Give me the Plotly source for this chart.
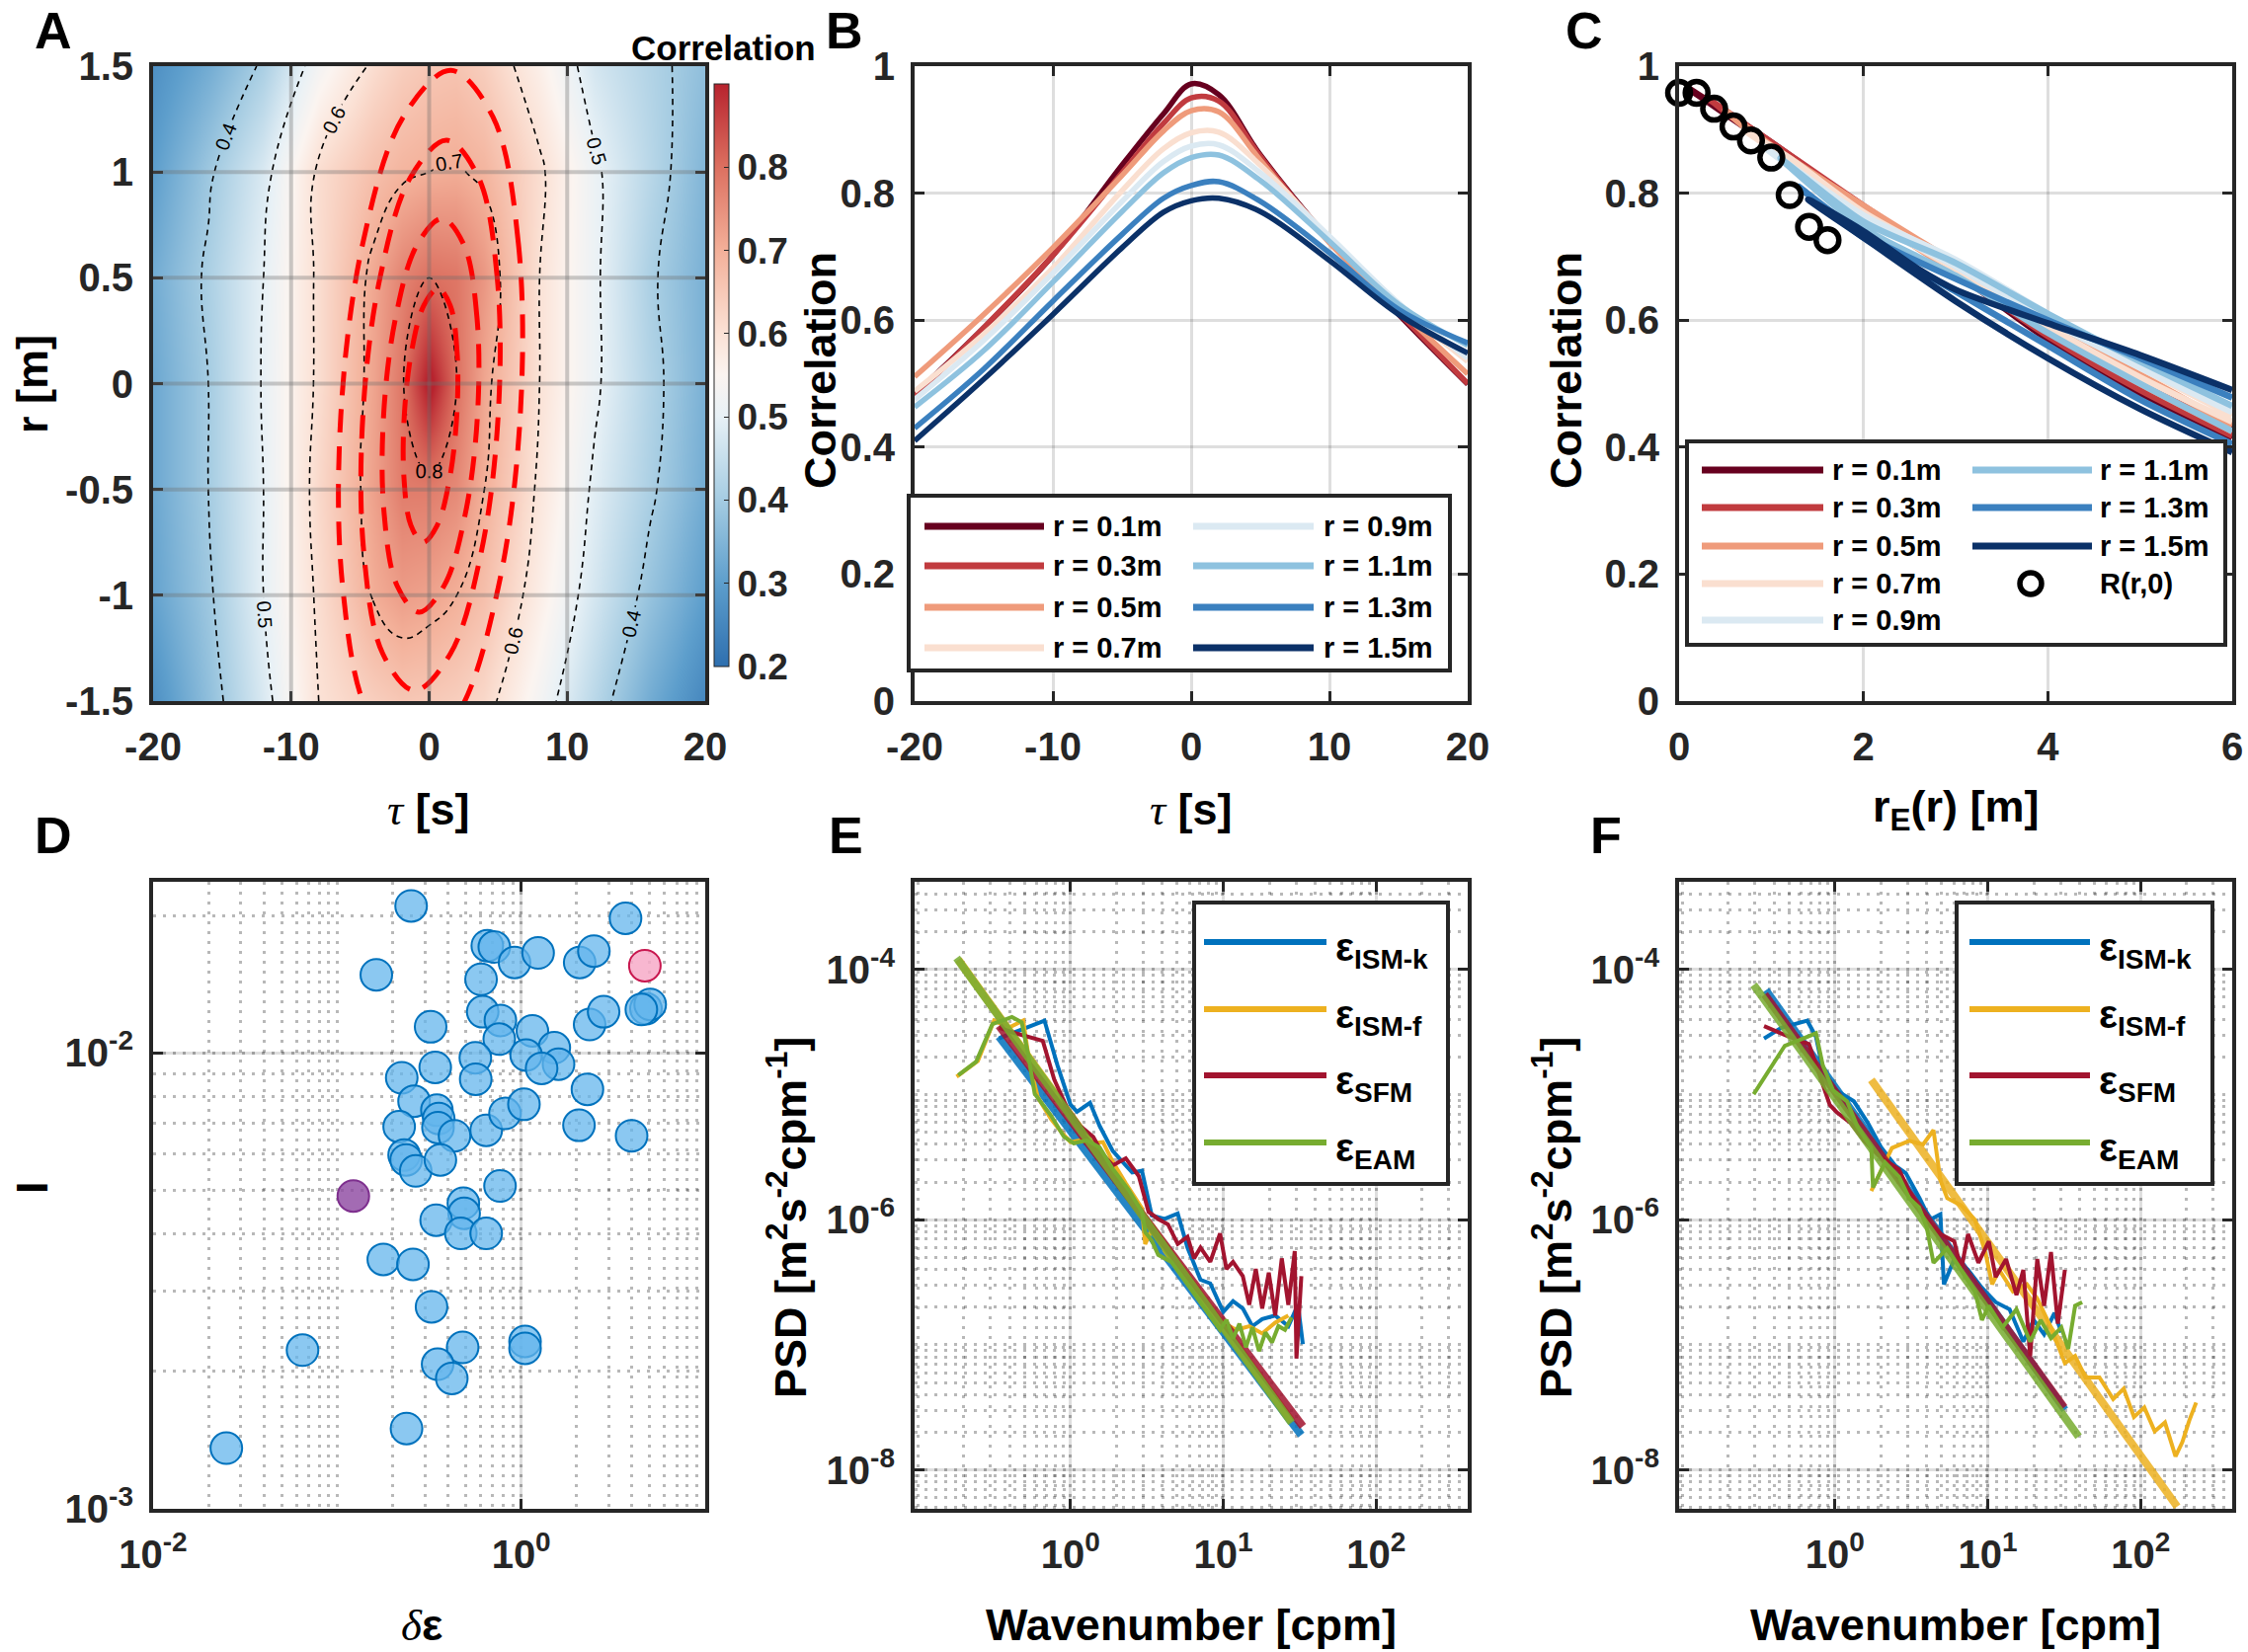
import numpy as np
import plotly.graph_objects as go

W, H = 2276, 1673
FONT = "Liberation Sans"
INK = "#262626"

# ---------------- A: correlation map R(r, tau) ----------------
a_tau = [-20, -16, -12, -8, -4, -2, 0, 2, 4, 8, 12, 16, 20]
a_r = [-1.5, -1.0, -0.5, 0.0, 0.5, 1.0, 1.5]
a_corr = [
    [0.27, 0.37, 0.48, 0.60, 0.64, 0.655, 0.65, 0.64, 0.62, 0.53, 0.43, 0.33, 0.25],
    [0.31, 0.39, 0.50, 0.61, 0.705, 0.73, 0.72, 0.70, 0.67, 0.57, 0.47, 0.38, 0.30],
    [0.32, 0.40, 0.50, 0.62, 0.725, 0.78, 0.78, 0.76, 0.70, 0.59, 0.49, 0.41, 0.33],
    [0.32, 0.40, 0.505, 0.61, 0.72, 0.79, 0.92, 0.80, 0.715, 0.60, 0.51, 0.42, 0.34],
    [0.33, 0.41, 0.50, 0.61, 0.715, 0.77, 0.80, 0.79, 0.74, 0.60, 0.51, 0.41, 0.34],
    [0.30, 0.39, 0.48, 0.61, 0.67, 0.69, 0.70, 0.705, 0.69, 0.61, 0.51, 0.43, 0.35],
    [0.27, 0.33, 0.41, 0.53, 0.61, 0.64, 0.655, 0.66, 0.64, 0.565, 0.47, 0.42, 0.37],
]

# red dashed model contours (tau [s], r [m])
ell1_tau = [2.0, 2.02, 1.52, 0.64, -0.38, -1.28, -1.8, -1.82, -1.32, -0.44, 0.58, 1.48, 2.0]
ell1_r = [-0.15, 0.15, 0.37, 0.45, 0.37, 0.15, -0.15, -0.45, -0.67, -0.75, -0.67, -0.45, -0.15]
ell2_tau = [3.5, 3.46, 2.52, 0.94, -0.88, -2.42, -3.3, -3.26, -2.32, -0.74, 1.08, 2.62, 3.5]
ell2_r = [-0.15, 0.315, 0.655, 0.78, 0.655, 0.315, -0.15, -0.615, -0.955, -1.08, -0.955, -0.615, -0.15]
ell3_tau = [5.0, 4.93, 3.56, 1.27, -1.34, -3.56, -4.8, -4.73, -3.36, -1.07, 1.54, 3.76, 5.0]
ell3_r = [-0.15, 0.5, 0.976, 1.15, 0.976, 0.5, -0.15, -0.8, -1.276, -1.45, -1.276, -0.8, -0.15]
ell4_tau = [6.6, 6.46, 4.62, 1.57, -1.88, -4.8, -6.4, -6.26, -4.42, -1.37, 2.08, 5.0, 6.6]
ell4_r = [-0.15, 0.665, 1.26, 1.48, 1.26, 0.665, -0.15, -0.965, -1.56, -1.78, -1.56, -0.965, -0.15]

# ---------------- B: R(r, tau) for fixed r ----------------
r_labels = ["r = 0.1m", "r = 0.3m", "r = 0.5m", "r = 0.7m",
            "r = 0.9m", "r = 1.1m", "r = 1.3m", "r = 1.5m"]
r_colors = ["#67001f", "#c13b3f", "#ef9b7b", "#fadfd0",
            "#dbe9f2", "#8ec2df", "#3b80bf", "#0b3168"]
b_tau = [-20, -15, -10, -5, -2, 0, 2, 5, 10, 15, 20]
b_corr = [
    [0.483, 0.588, 0.702, 0.844, 0.925, 0.972, 0.955, 0.860, 0.726, 0.609, 0.499],
    [0.480, 0.588, 0.702, 0.832, 0.910, 0.950, 0.945, 0.858, 0.724, 0.612, 0.500],
    [0.511, 0.609, 0.714, 0.828, 0.898, 0.930, 0.928, 0.852, 0.722, 0.617, 0.515],
    [0.488, 0.578, 0.682, 0.804, 0.870, 0.895, 0.896, 0.844, 0.730, 0.624, 0.535],
    [0.475, 0.568, 0.674, 0.787, 0.850, 0.874, 0.876, 0.832, 0.732, 0.627, 0.540],
    [0.463, 0.552, 0.660, 0.771, 0.832, 0.856, 0.860, 0.820, 0.724, 0.625, 0.560],
    [0.430, 0.523, 0.630, 0.735, 0.792, 0.812, 0.818, 0.787, 0.706, 0.617, 0.564],
    [0.410, 0.507, 0.609, 0.714, 0.770, 0.788, 0.792, 0.771, 0.694, 0.609, 0.548],
]

# ---------------- C: R vs equivalent separation r_E ----------------
c_rE = [
    [6, 5, 4, 3, 2, 1, 0.1, 1, 2, 3, 4, 5, 6],
    [6, 5, 4, 3, 2, 1, 0.3, 1, 2, 3, 4, 5, 6],
    [6, 5, 4, 3, 2, 1, 0.5, 1, 2, 3, 4, 5, 6],
    [6, 5, 4, 3, 2, 1.2, 0.7, 1.2, 2, 3, 4, 5, 6],
    [6, 5, 4, 3, 2, 0.9, 2, 3, 4, 5, 6],
    [6, 5, 4, 3, 2, 1.1, 2, 3, 4, 5, 6],
    [6, 5, 4, 3, 2, 1.3, 2, 3, 4, 5, 6],
    [6, 5, 4, 3, 2, 1.4, 2, 2.6, 3, 4, 5, 6],
]
c_corr = [
    [0.415, 0.485, 0.57, 0.675, 0.775, 0.88, 0.965, 0.875, 0.77, 0.68, 0.585, 0.505, 0.43],
    [0.418, 0.49, 0.575, 0.675, 0.775, 0.875, 0.95, 0.88, 0.78, 0.685, 0.59, 0.51, 0.435],
    [0.425, 0.5, 0.585, 0.675, 0.77, 0.87, 0.93, 0.875, 0.78, 0.69, 0.6, 0.515, 0.434],
    [0.44, 0.51, 0.59, 0.68, 0.765, 0.85, 0.90, 0.855, 0.77, 0.69, 0.605, 0.525, 0.45],
    [0.455, 0.525, 0.6, 0.685, 0.76, 0.875, 0.765, 0.695, 0.61, 0.53, 0.46],
    [0.425, 0.5, 0.58, 0.67, 0.745, 0.855, 0.755, 0.69, 0.61, 0.535, 0.465],
    [0.405, 0.475, 0.56, 0.645, 0.73, 0.81, 0.735, 0.665, 0.6, 0.54, 0.478],
    [0.392, 0.46, 0.54, 0.63, 0.73, 0.79, 0.74, 0.68, 0.648, 0.595, 0.545, 0.49],
]
c_circ_rE = [0.0, 0.19, 0.38, 0.59, 0.78, 1.0, 1.2, 1.41, 1.61]
c_circ_R = [0.958, 0.958, 0.933, 0.905, 0.883, 0.856, 0.797, 0.747, 0.726]

# ---------------- D: scatter (log10 values) ----------------
d_eps_log = [-0.598, -0.787, -0.184, -0.146, -0.036, 0.092, 0.318, 0.395, 0.567, -0.218,
             -0.209, -0.113, -0.119, -0.492, 0.061, 0.180, 0.027, 0.203, 0.111, -0.249,
             -0.247, -0.467, -0.649, -0.582, -0.458, -0.448, -0.663, -0.452, -0.362, -0.190,
             -0.088, 0.015, 0.360, 0.314, 0.600, 0.372, 0.448, 0.678, 0.701, 0.653,
             -0.636, -0.625, -0.573, -0.439, -0.115, -0.314, -0.310, -0.462, -0.328, -0.190,
             -0.749, -0.588, -0.487, -1.188, -0.318, -0.454, -0.377, 0.021, 0.021, -0.623, -1.602]
d_I_log = [-1.678, -1.829, -1.765, -1.768, -1.802, -1.781, -1.802, -1.777, -1.705, -1.839,
           -1.910, -1.929, -1.970, -1.943, -1.952, -1.989, -2.005, -2.025, -2.034, -2.011,
           -2.058, -2.032, -2.055, -2.106, -2.126, -2.144, -2.162, -2.164, -2.182, -2.170,
           -2.133, -2.113, -2.080, -2.159, -2.182, -1.938, -1.910, -1.903, -1.894, -1.905,
           -2.224, -2.235, -2.259, -2.235, -2.292, -2.330, -2.352, -2.367, -2.396, -2.396,
           -2.453, -2.464, -2.557, -2.652, -2.646, -2.683, -2.714, -2.633, -2.648, -2.824, -2.867]
d_purple_log = [-0.912, -2.314]
d_pink_log = [0.672, -1.809]

# ---------------- E: spectra (log10 k, log10 PSD) ----------------
e_ismk_k = [-0.468, -0.362, -0.170, -0.085, 0.0, 0.043, 0.128, 0.191, 0.277, 0.340, 0.404, 0.468,
            0.532, 0.617, 0.702, 0.766, 0.851, 0.915, 1.0, 1.064, 1.128, 1.191, 1.255, 1.340,
            1.426, 1.489, 1.521]
e_ismk_p = [-4.551, -4.503, -4.409, -4.766, -5.080, -5.137, -5.066, -5.251, -5.451, -5.537, -5.623,
            -5.609, -5.966, -5.994, -5.951, -6.223, -6.480, -6.509, -6.737, -6.651, -6.709, -6.851,
            -6.794, -6.766, -6.851, -6.680, -6.994]
e_ismf_k = [-0.745, -0.606, -0.5, -0.404, -0.309, -0.266, -0.213, -0.128, -0.053, 0.0, 0.064, 0.149,
            0.213, 0.277, 0.362, 0.468, 0.489, 0.543, 0.617, 0.702, 0.809, 0.915, 1.0, 1.085,
            1.170, 1.255, 1.340, 1.426]
e_ismf_p = [-4.857, -4.731, -4.409, -4.466, -4.409, -4.766, -5.023, -5.194, -5.309, -5.380, -5.366,
            -5.389, -5.380, -5.537, -5.709, -5.909, -6.194, -6.051, -6.251, -6.394, -6.566, -6.709,
            -6.823, -6.880, -6.851, -6.909, -6.823, -6.766]
e_sfm_k = [-0.468, -0.362, -0.181, -0.106, -0.021, 0.064, 0.149, 0.213, 0.277, 0.362, 0.447, 0.511,
           0.574, 0.638, 0.702, 0.766, 0.809, 0.851, 0.915, 0.979, 1.021, 1.064, 1.128, 1.170,
           1.213, 1.255, 1.298, 1.340, 1.383, 1.426, 1.468, 1.479, 1.511]
e_sfm_p = [-4.466, -4.509, -4.571, -4.880, -5.109, -5.251, -5.337, -5.480, -5.566, -5.509, -5.651,
           -5.937, -5.994, -6.037, -6.194, -6.137, -6.309, -6.223, -6.337, -6.109, -6.394, -6.337,
           -6.451, -6.680, -6.394, -6.709, -6.423, -6.766, -6.309, -6.680, -6.251, -7.109, -6.451]
e_eam_k = [-0.734, -0.617, -0.511, -0.383, -0.319, -0.277, -0.234, -0.128, -0.043, 0.021, 0.106,
           0.191, 0.277, 0.383, 0.468, 0.490, 0.532, 0.574, 0.660, 0.745, 0.830, 0.915, 0.979,
           1.021, 1.064, 1.106, 1.149, 1.191, 1.234, 1.276, 1.319, 1.361, 1.404, 1.447]
e_eam_p = [-4.846, -4.737, -4.437, -4.380, -4.423, -4.680, -4.994, -5.166, -5.337, -5.389, -5.366,
           -5.423, -5.594, -5.766, -5.937, -6.10, -6.166, -6.280, -6.337, -6.480, -6.623, -6.766,
           -6.880, -6.80, -6.95, -6.83, -7.02, -6.86, -7.05, -6.90, -6.98, -6.85, -6.88, -6.78]
# fitted inertial-range lines (end points)
e_fit_k = [[-0.468, 1.511], [-0.734, 1.447], [-0.468, 1.521], [-0.745, 1.447]]
e_fit_p = [[-4.537, -7.72], [-3.923, -7.609], [-4.451, -7.651], [-3.909, -7.623]]

# ---------------- F: spectra (log10 k, log10 PSD) ----------------
f_ismk_k = [-0.464, -0.351, -0.181, -0.124, -0.079, 0.011, 0.124, 0.215, 0.305, 0.396, 0.464, 0.554,
            0.622, 0.690, 0.713, 0.781, 0.871, 0.962, 1.052, 1.143, 1.233, 1.301, 1.369, 1.437, 1.482]
f_ismk_p = [-4.553, -4.467, -4.410, -4.539, -4.797, -4.968, -5.054, -5.226, -5.427, -5.570, -5.628,
            -5.828, -6.0, -5.957, -6.516, -6.315, -6.401, -6.544, -6.659, -6.716, -6.974, -6.802,
            -6.917, -6.745, -6.90]
f_ismf_k = [0.238, 0.373, 0.486, 0.577, 0.645, 0.690, 0.735, 0.826, 0.916, 0.984, 1.029, 1.075,
            1.165, 1.256, 1.324, 1.414, 1.505, 1.572, 1.640, 1.731, 1.821, 1.890, 1.957, 2.025,
            2.093, 2.160, 2.229, 2.274, 2.319, 2.364]
f_ismf_p = [-5.771, -5.427, -5.370, -5.398, -5.284, -5.685, -5.828, -5.885, -6.0, -6.258, -6.516,
            -6.401, -6.573, -6.516, -6.630, -6.860, -7.146, -7.089, -7.261, -7.261, -7.433, -7.35,
            -7.576, -7.50, -7.691, -7.62, -7.891, -7.776, -7.605, -7.461]
f_sfm_k = [-0.464, -0.328, -0.170, -0.124, -0.034, 0.011, 0.102, 0.192, 0.283, 0.351, 0.419, 0.486,
           0.600, 0.690, 0.781, 0.826, 0.871, 0.939, 1.007, 1.052, 1.120, 1.188, 1.233, 1.278,
           1.324, 1.369, 1.414, 1.459, 1.505]
f_sfm_p = [-4.453, -4.524, -4.596, -4.768, -5.083, -5.140, -5.226, -5.370, -5.484, -5.542, -5.599,
           -5.771, -6.0, -6.115, -6.172, -6.401, -6.115, -6.344, -6.172, -6.458, -6.315, -6.602,
           -6.401, -7.089, -6.315, -6.688, -6.258, -6.831, -6.401]
f_eam_k = [-0.532, -0.441, -0.328, -0.238, -0.124, -0.079, -0.011, 0.079, 0.147, 0.238, 0.249,
           0.328, 0.419, 0.486, 0.55, 0.6, 0.645, 0.735, 0.826, 0.916, 0.962, 1.007, 1.097, 1.188,
           1.278, 1.346, 1.414, 1.482, 1.527, 1.572, 1.618]
f_eam_p = [-4.997, -4.825, -4.610, -4.567, -4.510, -4.768, -4.968, -5.054, -5.255, -5.427, -5.742,
           -5.542, -5.656, -5.828, -5.9, -6.057, -6.344, -6.229, -6.401, -6.573, -6.802, -6.688,
           -6.860, -6.716, -6.974, -6.802, -6.946, -6.860, -7.032, -6.688, -6.659]
f_fit_k = [[-0.452, 1.505], [0.238, 2.24], [-0.46, 1.5], [-0.532, 1.595]]
f_fit_p = [[-4.166, -7.519], [-4.883, -8.292], [-4.2, -7.5], [-4.123, -7.733]]

eps_names = ["ε<sub>ISM-k</sub>", "ε<sub>ISM-f</sub>", "ε<sub>SFM</sub>", "ε<sub>EAM</sub>"]
eps_colors = ["#0072bd", "#edb120", "#a2142f", "#77ac30"]


def px(x):
    return x / W


def py(y):
    return 1 - y / H


def pw(v):
    return 10 ** np.array(v)


fig = go.Figure()

# ---- A
fig.add_trace(go.Heatmap(
    x=a_tau, y=a_r, z=a_corr, zsmooth="best", zmin=0.2, zmax=0.9,
    colorscale=[[0, "#2e6faf"], [0.143, "#5d9ecc"], [0.286, "#a5cce2"], [0.43, "#e8f1f6"],
                [0.5, "#fbf4f0"], [0.571, "#fbe2d6"], [0.714, "#f3b099"], [0.857, "#dc7060"],
                [1, "#b7232e"]],
    colorbar=dict(x=px(723), xanchor="left", xpad=0, ypad=0, thickness=15,
                  lenmode="fraction", len=590 / H, y=py(380), yanchor="middle",
                  tickvals=[0.2, 0.3, 0.4, 0.5, 0.6, 0.7, 0.8],
                  ticktext=["0.2", "0.3", "0.4", "0.5", "0.6", "0.7", "0.8"],
                  tickfont=dict(family=FONT, size=37, color=INK, weight="bold"),
                  ticks="inside", ticklen=5, tickcolor=INK, outlinewidth=1, outlinecolor=INK),
    xaxis="x", yaxis="y"))
fig.add_trace(go.Contour(
    x=a_tau, y=a_r, z=a_corr, showscale=False, hoverinfo="skip",
    contours=dict(coloring="none", start=0.4, end=0.8, size=0.1, showlabels=True,
                  labelfont=dict(family=FONT, size=20, color="black")),
    line=dict(color="black", width=1.6, dash="6px,5px", smoothing=1.3),
    xaxis="x", yaxis="y"))
for et, er in [(ell1_tau, ell1_r), (ell2_tau, ell2_r), (ell3_tau, ell3_r), (ell4_tau, ell4_r)]:
    fig.add_trace(go.Scatter(x=et, y=er, mode="lines", line=dict(color="#ff0000", width=5,
                  dash="24px,14px", shape="spline"), xaxis="x", yaxis="y"))

# ---- B
for i in range(8):
    fig.add_trace(go.Scatter(x=b_tau, y=b_corr[i], mode="lines",
                  line=dict(color=r_colors[i], width=5.5, shape="spline"), xaxis="x2", yaxis="y2"))

# ---- C
for i in range(8):
    fig.add_trace(go.Scatter(x=c_rE[i], y=c_corr[i], mode="lines",
                  line=dict(color=r_colors[i], width=6.5, shape="spline", smoothing=0.8),
                  xaxis="x3", yaxis="y3"))
fig.add_trace(go.Scatter(x=c_circ_rE, y=c_circ_R, mode="markers", cliponaxis=False,
              marker=dict(symbol="circle-open", size=23, color="black", line=dict(width=5.5)),
              xaxis="x3", yaxis="y3"))

# ---- D
fig.add_trace(go.Scatter(x=pw(d_eps_log), y=pw(d_I_log), mode="markers",
              marker=dict(size=32, color="rgba(100,182,236,0.75)",
                          line=dict(color="#0072bd", width=2)), xaxis="x4", yaxis="y4"))
fig.add_trace(go.Scatter(x=pw([d_purple_log[0]]), y=pw([d_purple_log[1]]), mode="markers",
              marker=dict(size=32, color="rgba(140,70,160,0.8)",
                          line=dict(color="#7e2f8e", width=2)), xaxis="x4", yaxis="y4"))
fig.add_trace(go.Scatter(x=pw([d_pink_log[0]]), y=pw([d_pink_log[1]]), mode="markers",
              marker=dict(size=32, color="rgba(247,170,200,0.85)",
                          line=dict(color="#c8174f", width=2)), xaxis="x4", yaxis="y4"))

# ---- E, F
e_data = [(e_ismk_k, e_ismk_p), (e_ismf_k, e_ismf_p), (e_sfm_k, e_sfm_p), (e_eam_k, e_eam_p)]
f_data = [(f_ismk_k, f_ismk_p), (f_ismf_k, f_ismf_p), (f_sfm_k, f_sfm_p), (f_eam_k, f_eam_p)]
for data, fk, fp, xa, ya in [(e_data, e_fit_k, e_fit_p, "x5", "y5"),
                             (f_data, f_fit_k, f_fit_p, "x6", "y6")]:
    for i in range(4):
        fig.add_trace(go.Scatter(x=pw(data[i][0]), y=pw(data[i][1]), mode="lines",
                      line=dict(color=eps_colors[i], width=4), xaxis=xa, yaxis=ya))
        fig.add_trace(go.Scatter(x=pw(fk[i]), y=pw(fp[i]), mode="lines", opacity=0.85,
                      line=dict(color=eps_colors[i], width=8), xaxis=xa, yaxis=ya))

for tr in fig.data:
    tr.showlegend = False


# ---------------- axes ----------------
def ax(**kw):
    base = dict(showline=True, linewidth=4, linecolor=INK, mirror="ticks", ticks="inside",
                ticklen=10, tickwidth=3, tickcolor=INK, zeroline=False, ticklabelstandoff=8,
                ticklabeloverflow="allow",
                tickfont=dict(family=FONT, size=40, color=INK, weight="bold"),
                showgrid=True, gridcolor="rgba(0,0,0,0.13)", gridwidth=3)
    base.update(kw)
    return base


def minor_vals(lo, hi):
    vals = []
    for e in range(lo, hi + 1):
        for m in range(1, 10):
            vals.append(m * 10.0 ** e)
    return vals


MINOR = dict(showgrid=True, gridcolor="rgba(0,0,0,0.28)", gridwidth=3, griddash="3px,7px", ticks="")

top = [py(710), py(67)]
bot = [py(1528), py(893)]
colA = [px(155), px(714)]
colB = [px(926), px(1486)]
colC = [px(1700), px(2260)]

sym = ["-1.5", "-1", "-0.5", "0", "0.5", "1", "1.5"]
tau_t = ["-20", "-10", "0", "10", "20"]
corr_t = ["0", "0.2", "0.4", "0.6", "0.8", "1"]

fig.update_layout(
    width=W, height=H, margin=dict(l=0, r=0, t=0, b=0, autoexpand=False),
    paper_bgcolor="white", plot_bgcolor="white",
    xaxis=ax(domain=colA, anchor="y", range=[-20, 20], tickvals=[-20, -10, 0, 10, 20],
             ticktext=tau_t, showgrid=False),
    yaxis=ax(domain=top, anchor="x", range=[-1.5, 1.5], tickvals=[-1.5, -1, -0.5, 0, 0.5, 1, 1.5],
             ticktext=sym, showgrid=False),
    xaxis2=ax(domain=colB, anchor="y2", range=[-20, 20], tickvals=[-20, -10, 0, 10, 20], ticktext=tau_t),
    yaxis2=ax(domain=top, anchor="x2", range=[0, 1], tickvals=[0, 0.2, 0.4, 0.6, 0.8, 1], ticktext=corr_t),
    xaxis3=ax(domain=colC, anchor="y3", range=[0, 6], tickvals=[0, 2, 4, 6], ticktext=["0", "2", "4", "6"]),
    yaxis3=ax(domain=top, anchor="x3", range=[0, 1], tickvals=[0, 0.2, 0.4, 0.6, 0.8, 1], ticktext=corr_t),
    xaxis4=ax(domain=colA, anchor="y4", type="log", range=[-2, 1], tickvals=[0.01, 1],
              ticktext=["10<sup>-2</sup>", "10<sup>0</sup>"],
              minor=dict(tickmode="array", tickvals=minor_vals(-2, 0), **MINOR)),
    yaxis4=ax(domain=bot, anchor="x4", type="log", range=[-3, -1.625], tickvals=[0.001, 0.01],
              ticktext=["10<sup>-3</sup>", "10<sup>-2</sup>"],
              minor=dict(tickmode="array", tickvals=minor_vals(-3, -2), **MINOR)),
    xaxis5=ax(domain=colB, anchor="y5", type="log", range=[-1.02, 2.6], tickvals=[1, 10, 100],
              ticktext=["10<sup>0</sup>", "10<sup>1</sup>", "10<sup>2</sup>"],
              minor=dict(tickmode="array", tickvals=minor_vals(-2, 2), **MINOR)),
    yaxis5=ax(domain=bot, anchor="x5", type="log", range=[-8.31, -3.3], tickvals=[1e-8, 1e-6, 1e-4],
              ticktext=["10<sup>-8</sup>", "10<sup>-6</sup>", "10<sup>-4</sup>"],
              minor=dict(tickmode="array", tickvals=minor_vals(-9, -4), **MINOR)),
    xaxis6=ax(domain=colC, anchor="y6", type="log", range=[-1.02, 2.6], tickvals=[1, 10, 100],
              ticktext=["10<sup>0</sup>", "10<sup>1</sup>", "10<sup>2</sup>"],
              minor=dict(tickmode="array", tickvals=minor_vals(-2, 2), **MINOR)),
    yaxis6=ax(domain=bot, anchor="x6", type="log", range=[-8.31, -3.3], tickvals=[1e-8, 1e-6, 1e-4],
              ticktext=["10<sup>-8</sup>", "10<sup>-6</sup>", "10<sup>-4</sup>"],
              minor=dict(tickmode="array", tickvals=minor_vals(-9, -4), **MINOR)),
)

# grid of panel A drawn over the map
for t in [-10, 0, 10]:
    fig.add_shape(type="line", xref="x", yref="y", x0=t, x1=t, y0=-1.5, y1=1.5,
                  line=dict(color="rgba(110,110,110,0.35)", width=4), layer="above")
for r in [-1, -0.5, 0, 0.5, 1]:
    fig.add_shape(type="line", xref="x", yref="y", x0=-20, x1=20, y0=r, y1=r,
                  line=dict(color="rgba(110,110,110,0.35)", width=4), layer="above")


# ---------------- text ----------------
def note(x, y, text, size=45, angle=0, anchor="center", weight="bold", vanchor="middle"):
    fig.add_annotation(x=px(x), y=py(y), xref="paper", yref="paper", text=text, showarrow=False,
                       textangle=angle, xanchor=anchor, yanchor=vanchor,
                       font=dict(family=FONT, size=size, color="black", weight=weight))


TAU = '<span style="font-family:Liberation Serif;font-style:italic;font-weight:normal">τ</span> [s]'
for x, t in [(54, "A"), (855, "B"), (1604, "C")]:
    note(x, 0, t, size=52, vanchor="top")
for x, y, t in [(54, 846, "D"), (856, 846, "E"), (1626, 846, "F")]:
    note(x, y, t, size=52)
note(434, 819, TAU)
note(1206, 819, TAU)
note(1980, 819, "r<sub>E</sub>(r) [m]")
note(32, 389, "r [m]", angle=-90)
note(830, 375, "Correlation", angle=-90)
note(1585, 375, "Correlation", angle=-90)
note(732, 48, "Correlation", size=35)
note(32, 1202, "I", angle=-90)
note(427, H, '<span style="font-family:Liberation Serif;font-style:italic;font-weight:normal">δ</span>ε',
     vanchor="bottom")
note(1206, H, "Wavenumber [cpm]", vanchor="bottom")
note(1980, H, "Wavenumber [cpm]", vanchor="bottom")
note(797, 1233, "PSD [m<sup>2</sup>s<sup>-2</sup>cpm<sup>-1</sup>]", angle=-90)
note(1572, 1233, "PSD [m<sup>2</sup>s<sup>-2</sup>cpm<sup>-1</sup>]", angle=-90)


# ---------------- legends ----------------
def box(x0, y0, x1, y1):
    fig.add_shape(type="rect", xref="paper", yref="paper", x0=px(x0), x1=px(x1), y0=py(y1), y1=py(y0),
                  fillcolor="white", line=dict(color=INK, width=4), layer="above")


def key(x0, x1, y, color, width=7):
    fig.add_shape(type="line", xref="paper", yref="paper", x0=px(x0), x1=px(x1), y0=py(y), y1=py(y),
                  line=dict(color=color, width=width), layer="above")


# B legend
box(920, 502, 1468, 679)
rows_b = [533, 573, 615, 656]
for i in range(8):
    col, row = divmod(i, 4)
    x0, x1, tx = (936, 1057, 1064) if col == 0 else (1208, 1330, 1338)
    key(x0, x1, rows_b[row], r_colors[i])
    note(tx, rows_b[row], r_labels[i], size=29, anchor="left")

# C legend
box(1708, 447, 2253, 653)
rows_c = [476, 514, 553, 591, 628]
for i in range(8):
    if i < 5:
        x0, x1, tx, y = 1723, 1846, 1853, rows_c[i]
    else:
        x0, x1, tx, y = 1997, 2118, 2124, rows_c[i - 5]
    key(x0, x1, y, r_colors[i])
    note(tx, y, r_labels[i], size=29, anchor="left")
fig.add_shape(type="circle", xref="paper", yref="paper", x0=px(2045), x1=px(2067),
              y0=py(602), y1=py(580), line=dict(color="black", width=5.5), layer="above")
note(2124, 591, "R(r,0)", size=29, anchor="left")

# E and F legends
rows_e = [954, 1022, 1089, 1157]
for bx0, bx1, lx0, lx1, tx in [(1209, 1466, 1219, 1343, 1350), (1981, 2240, 1994, 2116, 2123)]:
    box(bx0, 914, bx1, 1199)
    for i in range(4):
        key(lx0, lx1, rows_e[i], eps_colors[i], width=6)
        note(tx, rows_e[i] + 8, eps_names[i], size=40, anchor="left")

# the page body would otherwise add an 8px margin around the full-size figure
fig.write_html("out.html", config={"displayModeBar": False},
               post_script="document.body.style.margin='0';document.body.style.overflow='hidden';")
